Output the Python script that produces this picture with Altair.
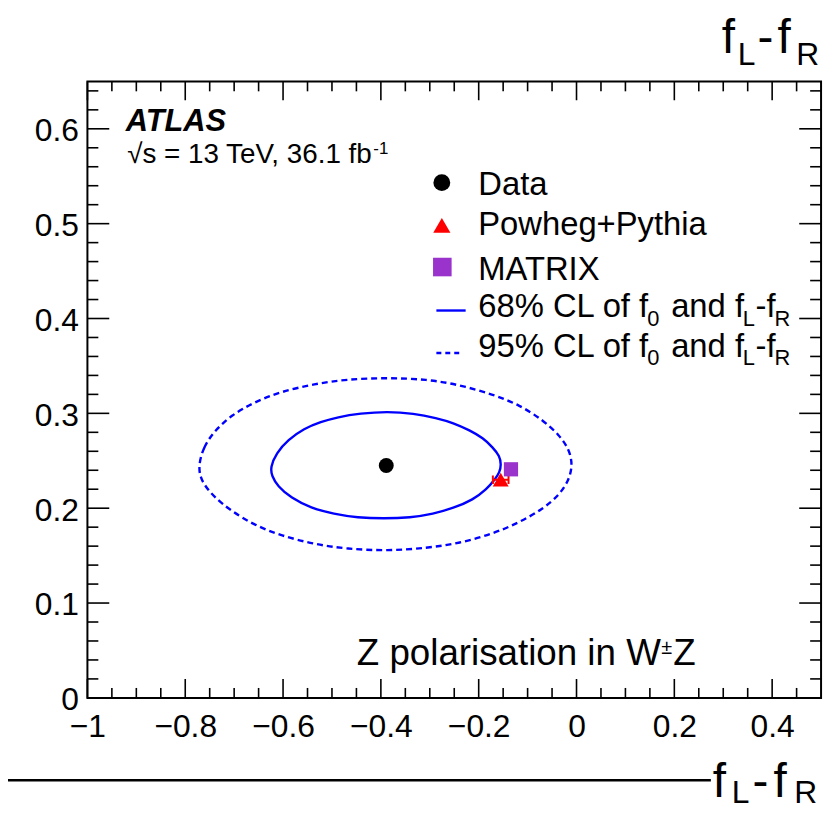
import altair as alt
import pandas as pd

FONT = "Liberation Sans"

# ---------------- values ----------------
# 68% CL contour (f_L - f_R, f_0)
cl68_x = [-0.626, -0.614, -0.590, -0.557, -0.523, -0.489, -0.442, -0.387, -0.333, -0.286,
          -0.252, -0.218, -0.191, -0.171, -0.157, -0.154, -0.157, -0.167, -0.184, -0.211,
          -0.252, -0.293, -0.340, -0.394, -0.448, -0.496, -0.543, -0.584, -0.611, -0.623]
cl68_y = [0.243, 0.258, 0.272, 0.284, 0.291, 0.296, 0.300, 0.302, 0.300, 0.295,
          0.290, 0.282, 0.274, 0.264, 0.255, 0.246, 0.238, 0.230, 0.220, 0.209,
          0.200, 0.194, 0.190, 0.189, 0.190, 0.194, 0.200, 0.211, 0.223, 0.234]
# 95% CL contour
cl95_x = [-0.775, -0.763, -0.739, -0.706, -0.658, -0.604, -0.536, -0.469, -0.387, -0.306,
          -0.239, -0.171, -0.117, -0.069, -0.035, -0.015, -0.008, -0.015, -0.035, -0.069,
          -0.117, -0.171, -0.239, -0.306, -0.387, -0.469, -0.536, -0.604, -0.658, -0.706,
          -0.739, -0.763]
cl95_y = [0.241, 0.265, 0.282, 0.298, 0.312, 0.323, 0.331, 0.336, 0.3375, 0.336,
          0.330, 0.320, 0.309, 0.293, 0.277, 0.262, 0.246, 0.230, 0.214, 0.199,
          0.185, 0.173, 0.163, 0.158, 0.155, 0.157, 0.162, 0.171, 0.182, 0.197,
          0.211, 0.225]

data_x = [-0.389]
data_y = [0.245]
powheg_x = [-0.155]
powheg_y = [0.230]
powheg_xerr = [0.016]
powheg_yerr = [0.0045]
matrix_x = [-0.134]
matrix_y = [0.241]

x_major = [-1.0, -0.8, -0.6, -0.4, -0.2, 0.0, 0.2, 0.4]
x_minor = [round(-1 + 0.05 * i, 2) for i in range(30) if i % 4 != 0]
y_major = [0.0, 0.1, 0.2, 0.3, 0.4, 0.5, 0.6]
y_minor = [round(0.02 * i, 2) for i in range(33) if i % 5 != 0]

W, H = 739, 621

# ---------------- scales / axes ----------------
xs = alt.Scale(domain=[-1, 0.5], nice=False, zero=False)
ys = alt.Scale(domain=[0, 0.65], nice=False, zero=False)
ax_x = alt.Axis(values=x_major, format="~g", labelFont=FONT, labelFontSize=32,
                labelColor="black", ticks=False, tickSize=0, domain=False, grid=False,
                labelPadding=14, labelFlush=False, labelOverlap=False, labelBound=False,
                title=None)
ax_y = alt.Axis(values=y_major, format="~g", labelFont=FONT, labelFontSize=32,
                labelColor="black", ticks=False, tickSize=0, domain=False, grid=False,
                labelPadding=9, labelOffset=2, labelFlush=False, labelOverlap=False,
                labelBound=False, title=None)


def X(f):
    return alt.X(f, type="quantitative", scale=xs, axis=ax_x)


def Y(f):
    return alt.Y(f, type="quantitative", scale=ys, axis=ax_y)


one = pd.DataFrame({"k": [0]})
layers = []

# ---------------- ticks (inward, on all four sides) ----------------
def xticks(vals, ln):
    d = pd.DataFrame({"v": vals})
    b = alt.Chart(d).mark_rule(color="black", strokeWidth=1.6).encode(
        x=X("v"), y=alt.value(H), y2=alt.value(H - ln))
    t = alt.Chart(d).mark_rule(color="black", strokeWidth=1.6).encode(
        x=X("v"), y=alt.value(0), y2=alt.value(ln))
    return [b, t]


def yticks(vals, ln):
    d = pd.DataFrame({"v": vals})
    l = alt.Chart(d).mark_rule(color="black", strokeWidth=1.6).encode(
        y=Y("v"), x=alt.value(0), x2=alt.value(ln))
    r = alt.Chart(d).mark_rule(color="black", strokeWidth=1.6).encode(
        y=Y("v"), x=alt.value(W), x2=alt.value(W - ln))
    return [l, r]


layers += xticks(x_major, 19) + xticks(x_minor, 10)
layers += yticks(y_major, 22) + yticks(y_minor, 11)

# ---------------- contours ----------------
df68 = pd.DataFrame({"x": cl68_x, "y": cl68_y, "i": list(range(len(cl68_x)))})
df95 = pd.DataFrame({"x": cl95_x, "y": cl95_y, "i": list(range(len(cl95_x)))})
layers.append(alt.Chart(df95).mark_line(color="#0000FF", strokeWidth=2.4,
                                        strokeDash=[6, 4], interpolate="basis-closed")
              .encode(x=X("x"), y=Y("y"), order="i:Q"))
layers.append(alt.Chart(df68).mark_line(color="#0000FF", strokeWidth=2.4,
                                        interpolate="basis-closed")
              .encode(x=X("x"), y=Y("y"), order="i:Q"))

# ---------------- points ----------------
dd = pd.DataFrame({"x": data_x, "y": data_y})
layers.append(alt.Chart(dd).mark_point(shape="circle", filled=True, size=225,
                                       color="black", opacity=1)
              .encode(x=X("x"), y=Y("y")))

pw = pd.DataFrame({"x": powheg_x, "y": powheg_y})
pw["xlo"] = pw["x"] - powheg_xerr[0]
pw["xhi"] = pw["x"] + powheg_xerr[0]
pw["ylo"] = pw["y"] - powheg_yerr[0]
pw["yhi"] = pw["y"] + powheg_yerr[0]
layers.append(alt.Chart(pw).mark_rule(color="red", strokeWidth=2)
              .encode(x=X("xlo"), x2="xhi", y=Y("y")))
layers.append(alt.Chart(pw).mark_rule(color="red", strokeWidth=2)
              .encode(x=X("xlo"), y=Y("ylo"), y2="yhi"))
layers.append(alt.Chart(pw).mark_rule(color="red", strokeWidth=2)
              .encode(x=X("xhi"), y=Y("ylo"), y2="yhi"))
layers.append(alt.Chart(pw).mark_point(shape="triangle-up", filled=True, size=256,
                                       color="red", opacity=1)
              .encode(x=X("x"), y=Y("y")))

mx = pd.DataFrame({"x": matrix_x, "y": matrix_y})
layers.append(alt.Chart(mx).mark_square(size=205, color="#9933CC", opacity=1)
              .encode(x=X("x"), y=Y("y")))


# ---------------- text helpers ----------------
def txt(s, px, py, size, **kw):
    return alt.Chart(one).mark_text(text=s, font=FONT, fontSize=size, align="left",
                                    baseline="alphabetic", color="black", **kw).encode(
        x=alt.value(px), y=alt.value(py))


# ATLAS label
layers.append(txt("ATLAS", 38.7, 50.3, 31, fontWeight="bold", fontStyle="italic"))
layers.append(txt("\u221As = 13 TeV, 36.1 fb", 40, 82.7, 28))
layers.append(txt("-1", 288, 73, 17))

# Z polarisation
layers.append(txt("Z polarisation in W", 271.3, 587.7, 37))
layers.append(txt("\u00B1", 578, 577, 20))
layers.append(txt("Z", 590, 587.7, 37))

# ---------------- legend ----------------
layers.append(alt.Chart(one).mark_point(shape="circle", filled=True, size=289,
                                        color="black", opacity=1)
              .encode(x=alt.value(357), y=alt.value(102)))
layers.append(alt.Chart(one).mark_point(shape="triangle-up", filled=True, size=300,
                                        color="red", opacity=1)
              .encode(x=alt.value(357), y=alt.value(145)))
layers.append(alt.Chart(one).mark_square(size=350, color="#9933CC", opacity=1)
              .encode(x=alt.value(357.5), y=alt.value(187)))
layers.append(alt.Chart(one).mark_rule(color="#0000FF", strokeWidth=2.4)
              .encode(x=alt.value(351.5), x2=alt.value(381), y=alt.value(230.8)))
layers.append(alt.Chart(one).mark_rule(color="#0000FF", strokeWidth=2.4, strokeDash=[5, 4])
              .encode(x=alt.value(351.5), x2=alt.value(377), y=alt.value(273.6)))

layers.append(txt("Data", 393.7, 114.3, 33))
layers.append(txt("Powheg+Pythia", 393.7, 154.4, 33))
layers.append(txt("MATRIX", 393.7, 200.5, 33))
for base, lab in [(237.6, "68% CL of f"), (277.3, "95% CL of f")]:
    sub = base + 8.5
    layers.append(txt(lab, 393.7, base, 33))
    layers.append(txt("0", 564, sub, 22))
    layers.append(txt("and f", 588, base, 33))
    layers.append(txt("L", 660, sub, 22))
    layers.append(txt("-f", 673, base, 33))
    layers.append(txt("R", 692, sub, 22))

# ---------------- axis-title fragments (cropped figure) ----------------
layers.append(txt("f", 639, -29, 48))
layers.append(txt("L", 655, -17, 32))
layers.append(txt("-", 675, -29, 48))
layers.append(txt("f", 695, -29, 48))
layers.append(txt("R", 714, -17, 32))

layers.append(alt.Chart(one).mark_rule(color="black", strokeWidth=2.5)
              .encode(x=alt.value(-80), x2=alt.value(628), y=alt.value(704)))
layers.append(txt("f", 630, 721, 48))
layers.append(txt("L", 649, 727, 32))
layers.append(txt("-", 670, 721, 48))
layers.append(txt("f", 691, 721, 48))
layers.append(txt("R", 712, 727, 32))

chart = alt.layer(*layers).properties(
    width=W, height=H,
    padding={"left": 80, "top": 71, "right": 8, "bottom": 109},
    autosize=alt.AutoSizeParams(type="none"),
    background="white",
).configure_view(stroke="black", strokeWidth=2)

chart.save("out.html", embed_options={"renderer": "svg", "actions": False})
